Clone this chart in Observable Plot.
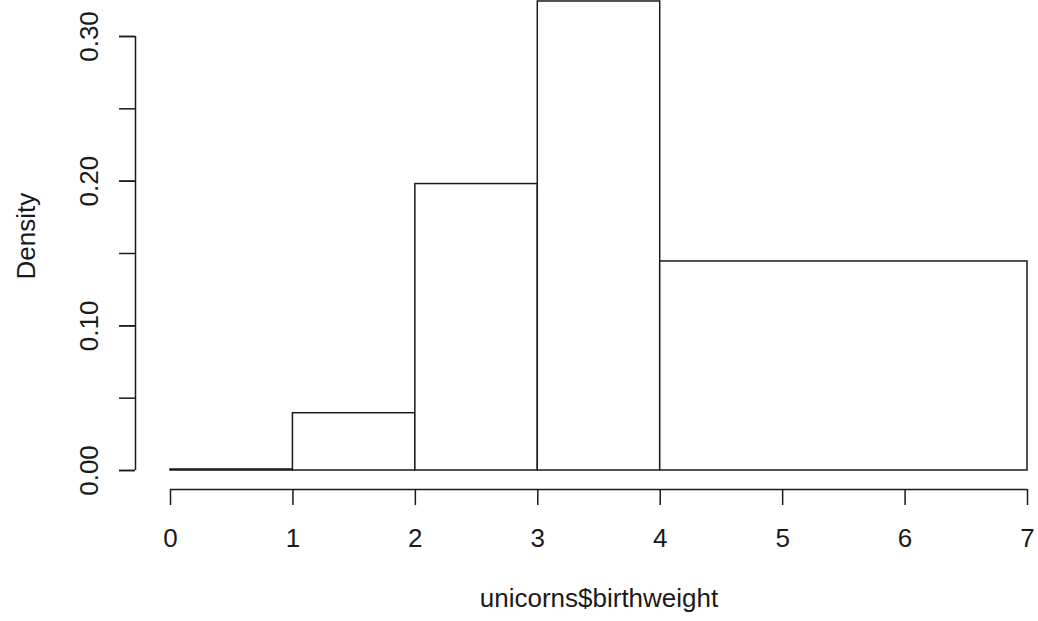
<!DOCTYPE html>
<html>
<head>
<meta charset="utf-8">
<script src="https://cdn.jsdelivr.net/npm/d3@7"></script>
<script src="https://cdn.jsdelivr.net/npm/@observablehq/plot@0.6"></script>
<style>
  html, body { margin: 0; padding: 0; background: #fff; }
</style>
</head>
<body>
<div id="chart"></div>
<script>
// Histogram of unicorns$birthweight (density scale)
const binStart = [0, 1, 2, 3, 4];
const binEnd   = [1, 2, 3, 4, 7];
const density  = [0.0007, 0.0396, 0.198, 0.3242, 0.1445];

const xTicks = [0, 1, 2, 3, 4, 5, 6, 7];
const yTicks = [0, 0.05, 0.10, 0.15, 0.20, 0.25, 0.30];
const yLabelTicks = [0, 0.10, 0.20, 0.30];

const xTitle = "unicorns$birthweight";
const yTitle = "Density";

const bins = binStart.map((s, i) => ({x1: s, x2: binEnd[i], density: density[i]}));

const ink = "#1a1a1a";
const fontSize = 26;

const chart = Plot.plot({
  width: 1038,
  height: 621,
  marginLeft: 170,
  marginRight: 11,
  marginTop: 36,
  marginBottom: 151,
  style: {fontFamily: "'Liberation Sans', Arial, Helvetica, sans-serif", fontSize: fontSize + "px", color: ink, background: "#fff"},
  x: {domain: [0, 7]},
  y: {domain: [0, 0.30]},
  marks: [
    Plot.rectY(bins, {x1: "x1", x2: "x2", y1: 0, y2: "density", fill: "white", stroke: ink, strokeWidth: 1.5}),
    // x axis (offset below the plot, R style)
    Plot.ruleY([0], {x1: 0, x2: 7, dy: 19, stroke: ink, strokeWidth: 1.5}),
    Plot.axisX({ticks: xTicks, tickSize: 16, dy: 19, tickPadding: 23.5, tickFormat: d3.format("d"), label: null, stroke: ink, strokeWidth: 1.5, fontSize: fontSize, fill: ink}),
    // y axis (offset left of the plot)
    Plot.ruleX([0], {y1: 0, y2: 0.30, dx: -35, stroke: ink, strokeWidth: 1.5}),
    Plot.axisY({ticks: yTicks, tickSize: 16, dx: -35, tickFormat: null, label: null, stroke: ink, strokeWidth: 1.5, text: null}),
    Plot.axisY({ticks: yLabelTicks, tickSize: 16, dx: -35, tickRotate: -90, tickPadding: 21.5, tickFormat: d3.format(".2f"), label: null, stroke: ink, strokeWidth: 1.5, fontSize: fontSize, fill: ink}),
    // axis titles
    Plot.text([xTitle], {frameAnchor: "bottom", dy: 136, lineAnchor: "bottom", fontSize: fontSize, fill: ink}),
    Plot.text([yTitle], {frameAnchor: "left", dx: -136, dy: 26, rotate: -90, lineAnchor: "bottom", fontSize: fontSize, fill: ink})
  ]
});

document.getElementById("chart").appendChild(chart);
</script>
</body>
</html>
